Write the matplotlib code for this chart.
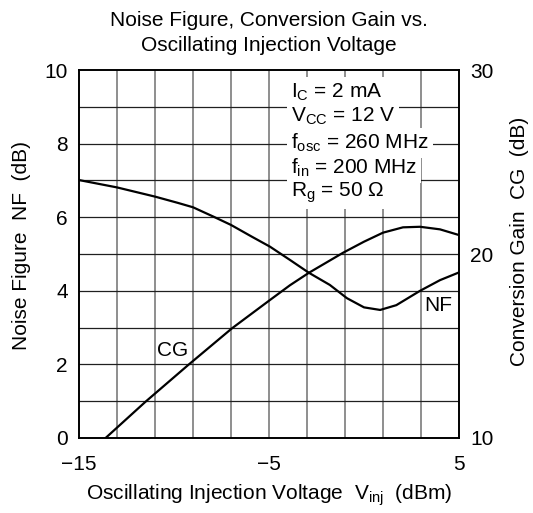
import numpy as np
import matplotlib
matplotlib.use("Agg")
import matplotlib.pyplot as plt

plt.rcParams['font.family'] = ['Liberation Sans', 'DejaVu Sans']

# Noise figure (left axis, dB)
nf_x = [-15, -13, -11, -9.8, -9, -7.9, -7, -5.9, -4.95, -3.9, -2.9, -1.8, -0.9,
        0.0, 0.85, 1.7, 2.95, 4.0, 5]
nf_y = [7.01, 6.81, 6.56, 6.39, 6.27, 6.01, 5.79, 5.47, 5.2, 4.84, 4.49, 4.16, 3.8,
        3.55, 3.48, 3.61, 4.0, 4.29, 4.5]

# Conversion gain (right axis, dB)
cg_x = [-13.6, -11.5, -9.25, -6.95, -4.95, -3.9, -2.9, -1.1, 0.0, 1.0, 2.05, 2.95, 4.0, 5]
cg_y = [10.0, 11.97, 13.97, 15.96, 17.5, 18.3, 18.98, 20.07, 20.67, 21.16, 21.45, 21.48, 21.34, 21.03]

cond = ["$\\mathregular{I_C}$ = 2 mA",
        "$\\mathregular{V_{CC}}$ = 12 V",
        "$\\mathregular{f_{osc}}$ = 260 MHz",
        "$\\mathregular{f_{in}}$ = 200 MHz",
        "$\\mathregular{R_g}$ = 50 Ω"]
cond_y = [9.4, 8.75, 8.02, 7.35, 6.67]

fs = 15
fig = plt.figure(figsize=(5.33, 5.13), dpi=100)
ax = fig.add_axes([0.1482, 0.1462, 0.713, 0.7173])
ax2 = ax.twinx()

ax.set_xlim(-15, 5)
ax.set_ylim(0, 10)
ax2.set_ylim(10, 30)

# grid every 2 dBm / 1 dB
for xv in np.arange(-13, 5, 2):
    ax.axvline(xv, color='#707070', linewidth=1.1, zorder=0)
for yv in np.arange(1, 10, 1):
    ax.axhline(yv, color='#202020', linewidth=0.9, zorder=0)

ax.set_xticks([-15, -5, 5])
ax.set_yticks([0, 2, 4, 6, 8, 10])
ax2.set_yticks([10, 20, 30])
ax.tick_params(axis='y', length=0, labelsize=fs, pad=8)
ax.tick_params(axis='x', length=0, labelsize=fs, pad=12)
ax2.tick_params(length=0, labelsize=fs, pad=8)

ax.plot(nf_x, nf_y, color='black', linewidth=1.6)
ax2.plot(cg_x, cg_y, color='black', linewidth=1.6)

for s in list(ax.spines.values()) + list(ax2.spines.values()):
    s.set_linewidth(1.2)

ax.text(-10.05, 2.39, "CG", fontsize=fs, ha='center', va='center')
ax.text(3.9, 3.59, "NF", fontsize=fs, ha='center', va='center')

# condition block, white background hides the grid behind it
for t, yy in zip(cond, cond_y):
    ax2.text(-3.85, 10 + 2 * yy, t, fontsize=fs, ha='left', va='center', zorder=5,
             bbox=dict(facecolor='white', edgecolor='none', pad=3))

ax.set_xlabel("Oscillating Injection Voltage  $\\mathregular{V_{inj}}$  (dBm)", fontsize=fs, va='center')
ax.xaxis.set_label_coords(0.5, -0.155)
ax.set_ylabel("Noise Figure  NF  (dB)", fontsize=fs, va='center')
ax.yaxis.set_label_coords(-0.15, 0.524)
ax2.set_ylabel("Conversion Gain  CG  (dB)", fontsize=fs, va='center')
ax2.yaxis.set_label_coords(1.16, 0.533)
fig.text(0.505, 0.961, "Noise Figure, Conversion Gain vs.", fontsize=fs, ha='center', va='center')
fig.text(0.505, 0.912, "Oscillating Injection Voltage", fontsize=fs, ha='center', va='center')

fig.savefig("out.png", dpi=100)
